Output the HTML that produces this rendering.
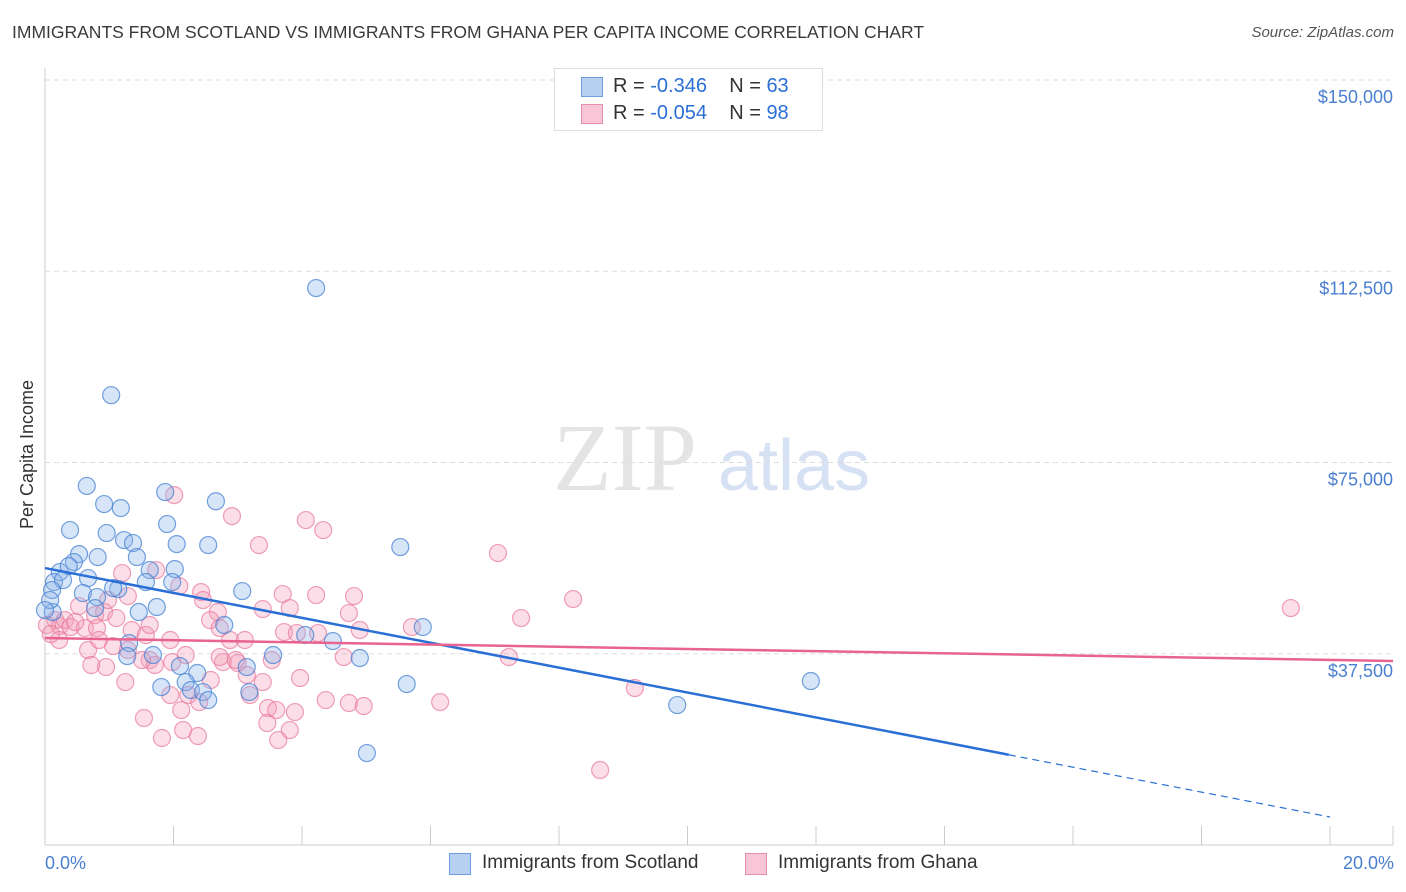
<!DOCTYPE html>
<html><head><meta charset="utf-8">
<style>
body{margin:0;background:#fff;font-family:"Liberation Sans",sans-serif;}
#wrap{position:relative;width:1406px;height:892px;overflow:hidden;}
.t{position:absolute;white-space:nowrap;}
</style></head>
<body>
<div id="wrap">
<div class="t" style="left:12px;top:22px;font-size:17.5px;color:#3a3a3a;">IMMIGRANTS FROM SCOTLAND VS IMMIGRANTS FROM GHANA PER CAPITA INCOME CORRELATION CHART</div>
<div class="t" style="right:12px;top:24px;font-size:15px;color:#555;font-style:italic;">Source: ZipAtlas.com</div>
<svg id="svg" width="1406" height="892" style="position:absolute;left:0;top:0"></svg>
</div>
<script>
const blueX=[4.22,1.03,0.65,1.87,2.66,0.39,0.92,1.18,1.90,0.96,1.23,1.37,2.05,2.54,0.82,0.53,1.43,0.45,5.53,0.23,0.37,0.67,0.14,0.28,0.11,1.63,2.02,1.57,1.98,3.07,0.59,0.81,1.14,0.78,1.46,1.74,0.12,2.79,5.88,4.05,4.48,1.31,1.28,1.68,3.55,4.90,2.10,2.37,3.14,2.19,1.81,2.27,2.46,2.54,3.18,5.63,11.92,9.84,5.01,0.08,0.0,1.06];
const blueY=[109200,88200,70400,69200,67400,61750,66850,66060,62930,61160,59790,59200,59000,58810,56460,57040,56460,55480,58420,53520,54690,52340,51560,51950,49990,53910,54100,51560,51560,49790,49400,48620,50180,46460,45680,46660,45680,43130,42730,41170,39990,39600,37050,37250,37250,36660,35090,33720,34890,31950,30970,30380,29990,28420,29990,31560,32150,27440,18030,48030,46070,50380];
const pinkX=[2.01,2.91,4.06,4.33,3.33,7.05,1.20,1.73,2.09,2.43,3.70,4.22,4.81,8.22,19.39,2.46,3.39,3.81,4.73,7.41,2.69,0.78,0.53,0.92,1.11,0.16,0.23,0.31,0.40,0.03,0.62,0.81,1.35,1.57,1.95,2.57,2.72,2.88,3.72,3.92,4.25,5.71,4.90,0.67,1.06,1.29,1.63,1.71,1.98,2.77,3.00,2.72,3.53,4.65,0.72,0.95,1.51,1.25,3.14,3.97,3.39,1.95,2.23,2.12,2.40,4.37,4.73,4.96,6.15,9.18,7.22,3.47,3.60,3.89,1.54,2.15,2.38,1.82,3.46,3.81,3.63,8.64,2.97,0.22,0.47,0.84,0.09,0.98,1.63,2.19,2.58,3.19,3.11,1.29];
const pinkY=[68610,64490,63710,61750,58810,57240,53320,53910,50770,49600,49200,49010,48810,48220,46460,48030,46260,46460,45480,44500,45680,45090,46850,45680,44500,44110,42930,44110,42730,43130,42540,42540,42150,41170,40190,44110,42540,40190,41750,41560,41560,42730,42150,38230,39010,38230,36270,35290,35870,35870,35680,36850,36270,36850,35290,34890,36270,31950,33330,32740,31950,29400,29400,26460,28030,28420,27840,27250,28030,30780,36850,26860,26460,26070,24900,22540,21370,20980,23920,22540,20580,14700,36270,40190,43720,40190,41370,48030,43130,37250,32350,29400,40190,48810];
const yTicks=[37500,75000,112500,150000];
const yTickLabels=["$37,500","$75,000","$112,500","$150,000"];
const blueTrend=[54300,5490]; // y at 0% and 20%
const pinkTrend=[40580,36300];
const blueSolidEnd=15;

const X=p=>45+p*64.25, Y=v=>845-v/150000*765;
const svg=document.getElementById('svg'), NS='http://www.w3.org/2000/svg';
function mk(tag,at,parent){const e=document.createElementNS(NS,tag);for(const k in at)e.setAttribute(k,at[k]);(parent||svg).appendChild(e);return e;}
let wm=mk('text',{x:553,y:490,'font-size':96,'font-family':'Liberation Serif,serif',fill:'#e4e4e4'});wm.textContent='ZIP';

let wm2=mk('text',{x:718,y:490,'font-size':72,'font-family':'Liberation Sans,sans-serif',fill:'#d6e2f3'});wm2.textContent='atlas';

yTicks.forEach((v,i)=>{
 let g=mk('line',{x1:45,x2:1393,y1:Y(v),y2:Y(v),stroke:'#dddddd','stroke-dasharray':'5,4'});
 
 let t=mk('text',{x:1393,y:Y(v)+23,'text-anchor':'end','font-size':18,fill:'#4a7fd0','font-family':'Liberation Sans,sans-serif'});t.textContent=yTickLabels[i];
 
});
let ax=mk('line',{x1:45,x2:45,y1:68,y2:845,stroke:'#cccccc'});
let bx=mk('line',{x1:45,x2:1393,y1:845,y2:845,stroke:'#cccccc'});
for(let p=0;p<=20.5;p+=2){let tk=mk('line',{x1:X(p),x2:X(p),y1:826,y2:845,stroke:'#cccccc'});}
let tk2=mk('line',{x1:1393,x2:1393,y1:826,y2:845,stroke:'#cccccc'});
function pts(xs,ys,fill,stroke,name){xs.forEach((x,i)=>{let c=mk('circle',{cx:X(x),cy:Y(ys[i]),r:8.5,fill:fill,stroke:stroke,'stroke-width':1.2});
 });}
pts(pinkX,pinkY,'rgba(244,160,185,0.35)','rgba(232,120,155,0.7)','ghana-point');
pts(blueX,blueY,'rgba(140,180,235,0.35)','rgba(70,130,210,0.75)','scotland-point');
const by=p=>blueTrend[0]+(blueTrend[1]-blueTrend[0])*p/20;
let l1=mk('line',{x1:X(0),y1:Y(by(0)),x2:X(blueSolidEnd),y2:Y(by(blueSolidEnd)),stroke:'#2a6fd6','stroke-width':2.5});

let l2=mk('line',{x1:X(blueSolidEnd),y1:Y(by(blueSolidEnd)),x2:X(20),y2:Y(by(20)),stroke:'#2a6fd6','stroke-width':1.2,'stroke-dasharray':'7,5'});

const py=p=>pinkTrend[0]+(pinkTrend[1]-pinkTrend[0])*p/20;
let l3=mk('line',{x1:X(0),y1:Y(py(0)),x2:1393,y2:Y(py((1393-45)/64.25)),stroke:'#e8638f','stroke-width':2.5});

</script>
<div class="t" style="left:-47px;top:444px;transform:rotate(-90deg);font-size:18px;color:#333;">Per Capita Income</div>
<div class="t" style="left:45px;top:853px;font-size:18px;color:#4a7fd0;">0.0%</div>
<div class="t" style="right:12px;top:853px;font-size:18px;color:#4a7fd0;">20.0%</div>
<div style="position:absolute;left:554px;top:68px;width:267px;height:61px;border:1px solid #ddd;background:#fff;font-size:20px;color:#333;">
 <div style="position:absolute;left:26px;top:8px;width:20px;height:18px;background:#b8d1f3;border:1px solid #6d9ee0;"></div>
 <div class="t" style="left:58px;top:6px;">R = <span style="color:#2a6fd6">-0.346</span>&nbsp;&nbsp;&nbsp; N = <span style="color:#2a6fd6">63</span></div>
 <div style="position:absolute;left:26px;top:35px;width:20px;height:18px;background:#f8c6d6;border:1px solid #e88fad;"></div>
 <div class="t" style="left:58px;top:33px;">R = <span style="color:#2a6fd6">-0.054</span>&nbsp;&nbsp;&nbsp; N = <span style="color:#2a6fd6">98</span></div>
</div>
<div style="position:absolute;left:449px;top:852px;font-size:19px;color:#333;">
 <div style="position:absolute;left:0;top:1px;width:20px;height:20px;background:#b8d1f3;border:1px solid #6d9ee0;"></div>
 <div class="t" style="left:33px;top:0px;">Immigrants from Scotland</div>
 <div style="position:absolute;left:296px;top:1px;width:20px;height:20px;background:#f8c6d6;border:1px solid #e88fad;"></div>
 <div class="t" style="left:329px;top:0px;">Immigrants from Ghana</div>
</div>
</body></html>
